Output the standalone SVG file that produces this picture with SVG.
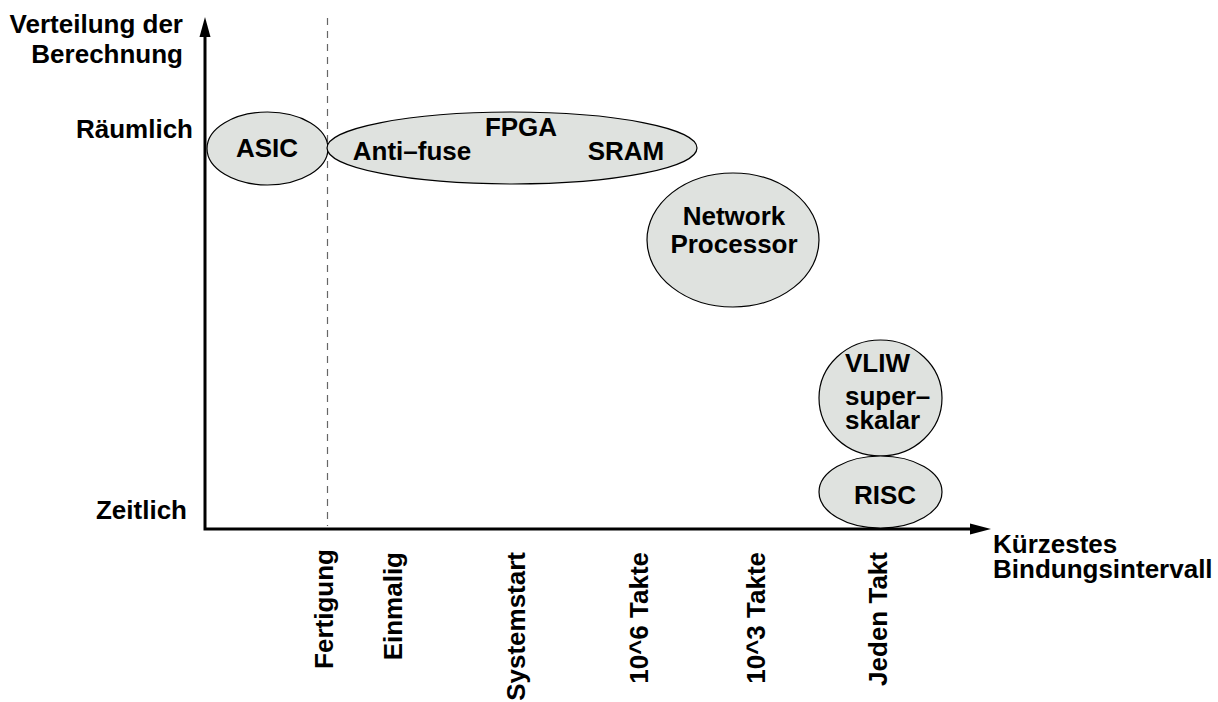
<svg xmlns="http://www.w3.org/2000/svg" width="1218" height="702" viewBox="0 0 1218 702">
<style>
text{font-family:"Liberation Sans",Arial,sans-serif;font-weight:bold;font-size:26px;fill:#000}
.n{fill:#dfe2df;stroke:#000;stroke-width:1.2}
.m{text-anchor:middle}
.e{text-anchor:end}
</style>
<rect width="1218" height="702" fill="#fff"/>
<g id="connectors">
<line x1="327.5" y1="18" x2="327.5" y2="526" stroke="#666" stroke-width="1.2" stroke-dasharray="7,6"/>
<polyline points="205,36 205,529 972,529" fill="none" stroke="#000" stroke-width="3"/>
<polygon points="205,17 199.5,37 210.5,37" fill="#000"/>
<polygon points="991,529 970,523.5 970,534.5" fill="#000"/>
</g>
<g id="axis-labels">
<text class="e" x="183" y="33">Verteilung der</text>
<text class="e" x="183" y="63">Berechnung</text>
<text class="e" x="193" y="138">Räumlich</text>
<text class="e" x="187" y="519">Zeitlich</text>
<text x="993" y="553">Kürzestes</text>
<text x="993" y="578">Bindungsintervall</text>
</g>
<g id="ticks">
<text class="e" transform="translate(333,549) rotate(-90)">Fertigung</text>
<text class="e" transform="translate(402,552) rotate(-90)">Einmalig</text>
<text class="e" transform="translate(525,552) rotate(-90)">Systemstart</text>
<text class="e" transform="translate(648,552) rotate(-90)">10^6 Takte</text>
<text class="e" transform="translate(765,552) rotate(-90)">10^3 Takte</text>
<text class="e" transform="translate(887,552) rotate(-90)">Jeden Takt</text>
</g>
<g id="asic">
<ellipse class="n" cx="267.5" cy="148.5" rx="60.5" ry="36.5"/>
<text class="m" x="267" y="157">ASIC</text>
</g>
<g id="fpga">
<ellipse class="n" cx="512" cy="148" rx="185" ry="36"/>
<text class="m" x="521" y="136">FPGA</text>
<text class="m" x="412" y="160">Anti–fuse</text>
<text class="m" x="626" y="160">SRAM</text>
</g>
<g id="network-processor">
<ellipse class="n" cx="733" cy="240" rx="86" ry="67"/>
<text class="m" x="734" y="225">Network</text>
<text class="m" x="734" y="253">Processor</text>
</g>
<g id="vliw">
<ellipse class="n" cx="880.5" cy="398" rx="61.5" ry="58"/>
<text x="845" y="372">VLIW</text>
<text x="845" y="405">super–</text>
<text x="845" y="429">skalar</text>
</g>
<g id="risc">
<ellipse class="n" cx="880.5" cy="492" rx="61.5" ry="36"/>
<text class="m" x="885" y="504">RISC</text>
</g>
</svg>
